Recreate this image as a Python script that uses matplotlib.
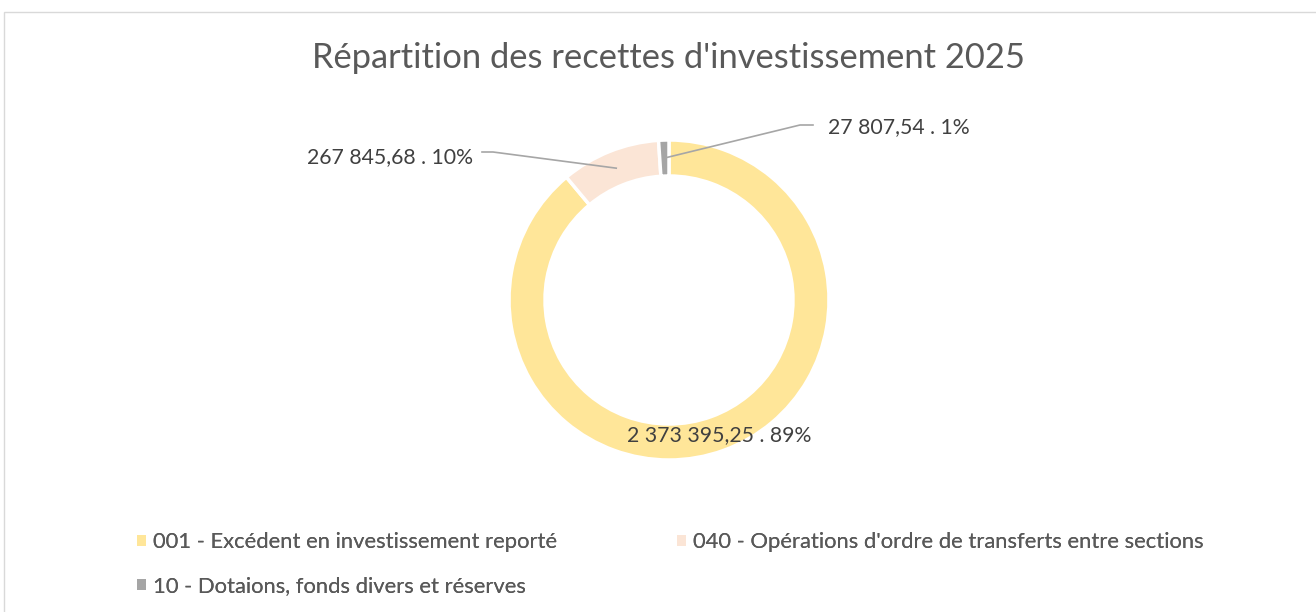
import numpy as np
import matplotlib.pyplot as plt
from matplotlib.patches import Patch, Rectangle
from matplotlib.lines import Line2D

plt.rcParams['font.family'] = ['Lato', 'DejaVu Sans']

# data
categories = ["001 - Excédent en investissement reporté",
              "040 - Opérations d'ordre de transferts entre sections",
              "10 - Dotaions, fonds divers et réserves"]
values = [2373395.25, 267845.68, 27807.54]
value_labels = ["2 373 395,25", "267 845,68", "27 807,54"]
colors = ["#FFE699", "#FBE5D6", "#A5A5A5"]

W, H = 1316, 612
fig = plt.figure(figsize=(W / 100, H / 100), dpi=100)

# light frame around the chart area
fig.patches.append(Rectangle((4 / W, -0.1), 1.2, (H - 12) / H + 0.1, transform=fig.transFigure,
                             fill=False, edgecolor="#D9D9D9", linewidth=1))

fig.text(668 / W, 1 - 58 / H, "Répartition des recettes d'investissement 2025",
         ha="center", va="center", fontsize=24.8, color="#595959")

cx, cy, R = 669, 300, 160
ax = fig.add_axes([(cx - R) / W, (H - cy - R) / H, 2 * R / W, 2 * R / H])
wedges, _ = ax.pie(values, colors=colors, startangle=90, counterclock=False, radius=1,
                   wedgeprops=dict(width=0.225, edgecolor="white", linewidth=2.5))
ax.set_xlim(-1, 1)
ax.set_ylim(-1, 1)
ax.set_aspect("equal")
ax.axis("off")

total = sum(values)
pcts = ["%d%%" % round(v / total * 100) for v in values]
labels = [f"{a} . {b}" for a, b in zip(value_labels, pcts)]

fig.canvas.draw()
lab_color = "#404040"
lab_size = 15.3
# biggest slice: label on the bottom of the ring
fig.text(719 / W, 1 - 435 / H, labels[0], ha="center", va="center", fontsize=lab_size, color=lab_color)

def anchor(w):
    ang = np.deg2rad((w.theta1 + w.theta2) / 2)
    r = 1 - 0.225 / 2
    return ax.transData.transform((r * np.cos(ang), r * np.sin(ang)))

# 040 leader
x1, y1 = anchor(wedges[1])
fig.lines.append(Line2D([x1, 493, 482], [y1, H - 152, H - 152], transform=None,
                        color="#A6A6A6", linewidth=1.2))
fig.text(473 / W, 1 - 157 / H, labels[1], ha="right", va="center", fontsize=lab_size, color=lab_color)

# 10 leader
x2, y2 = anchor(wedges[2])
fig.lines.append(Line2D([x2, 800, 813], [y2, H - 125, H - 125], transform=None,
                        color="#A6A6A6", linewidth=1.2))
fig.text(828 / W, 1 - 127 / H, labels[2], ha="left", va="center", fontsize=lab_size, color=lab_color)

# legend, one entry per slot
leg_pos = [(137, 542.5), (677, 542.5), (137, 586.5)]
leg_size = 15.8
for i in range(3):
    lg = fig.legend([Patch(facecolor=colors[i], edgecolor="none")], [categories[i]],
                    loc="center left", bbox_to_anchor=(leg_pos[i][0] / W, 1 - leg_pos[i][1] / H),
                    frameon=False, fontsize=leg_size, handlelength=0.41, handleheight=0.41,
                    handletextpad=0.32, borderpad=0, borderaxespad=0, labelcolor="#595959")
    fig.add_artist(lg)

fig.savefig("out.png", dpi=100)
